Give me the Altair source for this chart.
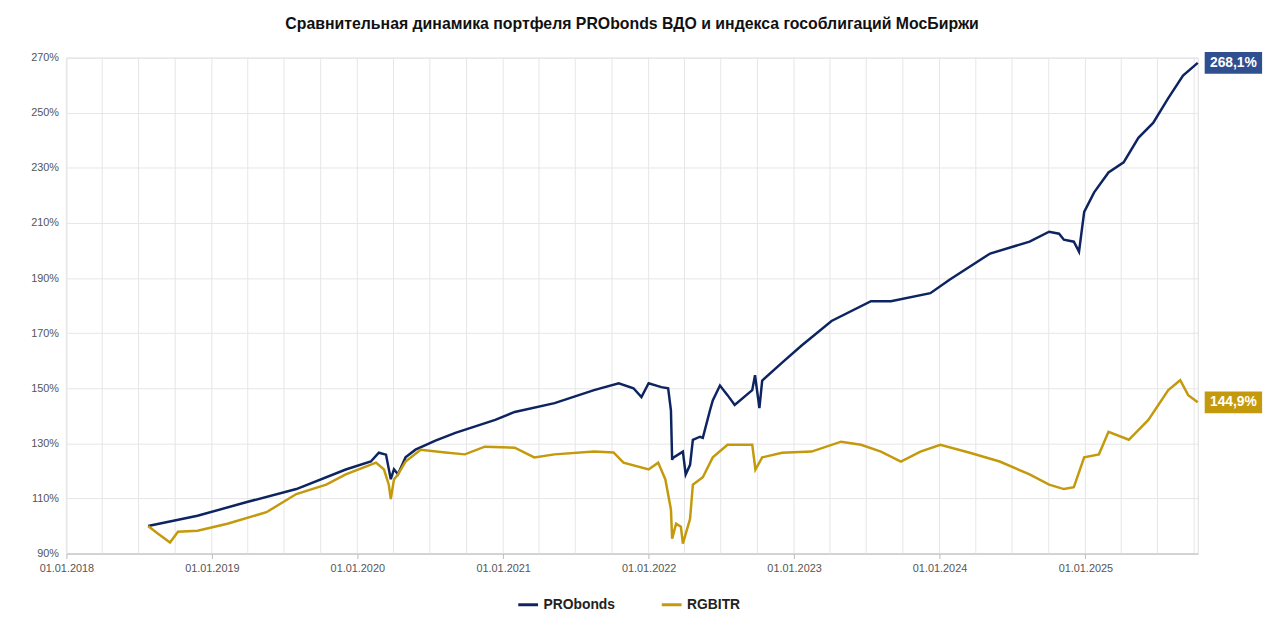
import altair as alt
import pandas as pd

pro_dates = [
    "2018-07-25", "2018-11-26", "2019-03-30", "2019-08-01", "2019-12-03", "2020-02-04",
    "2020-02-24", "2020-03-13", "2020-03-25", "2020-04-02", "2020-04-12", "2020-05-01",
    "2020-05-26", "2020-07-15", "2020-09-03", "2020-12-12", "2021-01-30", "2021-05-10",
    "2021-08-17", "2021-10-18", "2021-11-24", "2021-12-14", "2022-01-01", "2022-02-02",
    "2022-02-19", "2022-02-26", "2022-03-01", "2022-03-03", "2022-03-28", "2022-04-04",
    "2022-04-15", "2022-04-22", "2022-05-10", "2022-05-17", "2022-06-04", "2022-06-11",
    "2022-06-29", "2022-07-18", "2022-08-05", "2022-09-18", "2022-09-25", "2022-10-06",
    "2022-10-13", "2022-12-02", "2023-01-20", "2023-04-05", "2023-07-13", "2023-09-01",
    "2023-12-09", "2024-01-27", "2024-05-07", "2024-08-14", "2024-10-02", "2024-10-27",
    "2024-11-08", "2024-12-03", "2024-12-16", "2024-12-29", "2025-01-23", "2025-02-28",
    "2025-04-07", "2025-05-14", "2025-06-20", "2025-07-28", "2025-09-03", "2025-10-10",
]
pro_values = [
    100.0, 103.7, 108.7, 113.4, 120.5, 123.4,
    126.6, 125.9, 117.0, 120.6, 118.8, 124.9,
    127.7, 131.0, 133.8, 138.5, 141.4, 144.6,
    149.3, 151.8, 150.0, 146.8, 151.8, 150.4,
    150.0, 142.0, 124.0, 124.7, 127.0, 118.7,
    122.2, 131.3, 132.4, 132.0, 142.0, 145.6,
    151.0, 147.5, 143.9, 149.3, 154.7, 142.8,
    152.8, 159.3, 165.5, 174.4, 181.6, 181.6,
    184.5, 189.5, 198.9, 203.2, 206.8, 206.1,
    203.9, 203.2, 199.6, 214.0, 221.1, 228.3,
    232.0, 240.9, 246.3, 255.3, 263.5, 268.1,
]

rgb_dates = [
    "2018-07-25", "2018-08-19", "2018-09-18", "2018-10-08", "2018-11-26", "2019-02-09",
    "2019-05-18", "2019-08-01", "2019-10-15", "2019-12-03", "2020-02-17", "2020-03-08",
    "2020-03-20", "2020-03-25", "2020-04-02", "2020-04-12", "2020-05-01", "2020-06-08",
    "2020-08-09", "2020-09-27", "2020-11-16", "2021-01-30", "2021-03-20", "2021-05-10",
    "2021-08-17", "2021-10-05", "2021-10-30", "2022-01-01", "2022-01-25", "2022-02-12",
    "2022-02-26", "2022-03-01", "2022-03-11", "2022-03-23", "2022-03-28", "2022-04-15",
    "2022-04-22", "2022-05-17", "2022-06-11", "2022-07-18", "2022-09-18", "2022-09-26",
    "2022-10-13", "2022-12-02", "2023-02-14", "2023-04-29", "2023-06-18", "2023-08-07",
    "2023-09-26", "2023-11-14", "2024-01-03", "2024-03-17", "2024-05-31", "2024-08-14",
    "2024-10-02", "2024-11-08", "2024-12-03", "2024-12-29", "2025-02-04", "2025-02-28",
    "2025-04-20", "2025-06-08", "2025-07-28", "2025-08-27", "2025-09-16", "2025-10-10",
]
rgb_values = [
    100.0, 97.2, 94.0, 97.9, 98.3, 100.8,
    105.0, 111.6, 115.0, 118.7, 123.0, 120.5,
    115.0, 109.8, 116.9, 118.7, 123.4, 127.7,
    126.7, 126.0, 128.8, 128.4, 124.9, 126.0,
    127.0, 126.7, 123.0, 120.5, 123.0, 116.9,
    106.0, 95.4, 100.8, 99.7, 93.6, 102.6,
    115.0, 117.7, 124.9, 129.5, 129.5, 120.5,
    124.9, 126.6, 127.0, 130.6, 129.5, 127.0,
    123.4, 127.0, 129.5, 126.6, 123.4, 118.7,
    115.0, 113.4, 114.1, 124.9, 126.0, 134.2,
    131.3, 138.5, 149.3, 152.9, 147.5, 144.9,
]

series_names = ["PRObonds", "RGBITR"]
series_colors = ["#0d2461", "#c49a0c"]
end_labels = ["268,1%", "144,9%"]

df = pd.concat([
    pd.DataFrame({"date": pd.to_datetime(pro_dates), "value": pro_values, "series": "PRObonds"}),
    pd.DataFrame({"date": pd.to_datetime(rgb_dates), "value": rgb_values, "series": "RGBITR"}),
])
ends = pd.DataFrame({
    "date": pd.to_datetime([pro_dates[-1], rgb_dates[-1]]),
    "value": [pro_values[-1], rgb_values[-1]],
    "series": series_names,
    "label": end_labels,
})

x_dom = [pd.Timestamp("2018-01-01").isoformat(), pd.Timestamp("2025-10-10").isoformat()]
x_scale = alt.Scale(domain=x_dom)
y_scale = alt.Scale(domain=[90, 270], nice=False)
color = alt.Color(
    "series:N",
    scale=alt.Scale(domain=series_names, range=series_colors),
    legend=alt.Legend(
        title=None, orient="none", direction="horizontal", legendX=455, legendY=541,
        symbolType="stroke", symbolStrokeWidth=3, symbolSize=400, labelFontSize=14,
        labelFontWeight="bold", labelColor="#222", columnPadding=40,
    ),
)

# quarterly vertical gridlines
vgrid = pd.DataFrame({"date": pd.date_range("2018-01-01", "2025-10-01", freq="QS")})
grid = alt.Chart(vgrid).mark_rule(color="#e6e6e6", strokeWidth=1).encode(
    x=alt.X("date:T", scale=x_scale)
)

year_ticks = [pd.Timestamp(f"{y}-01-01").isoformat() for y in range(2018, 2026)]

lines = alt.Chart(df).mark_line(strokeWidth=2.5).encode(
    x=alt.X(
        "date:T", scale=x_scale, title=None,
        axis=alt.Axis(values=year_ticks, format="%d.%m.%Y", grid=False, labelFontSize=11,
                      labelColor="#555", domainColor="#bbb", tickColor="#bbb",
                      labelPadding=4, labelFlush=False),
    ),
    y=alt.Y(
        "value:Q", scale=y_scale, title=None,
        axis=alt.Axis(values=list(range(90, 271, 10)),
                      labelExpr="datum.value % 20 == 10 ? datum.value + '%' : ''",
                      gridColor="#e6e6e6", domain=False, ticks=False, labelFontSize=11,
                      labelColor="#555", labelPadding=8, labelFlush=False),
    ),
    color=color,
)

boxes = alt.Chart(ends).mark_rect(width=58, height=22, xOffset=36).encode(
    x=alt.X("date:T", scale=x_scale),
    y=alt.Y("value:Q", scale=y_scale),
    color=alt.Color("series:N", scale=alt.Scale(domain=series_names, range=["#2f4f8f", "#c49a0c"]), legend=None),
)
texts = alt.Chart(ends).mark_text(dx=36, color="white", fontWeight="bold", fontSize=14).encode(
    x=alt.X("date:T", scale=x_scale),
    y=alt.Y("value:Q", scale=y_scale),
    text="label:N",
)

chart = (
    alt.layer(grid, lines, boxes, texts)
    .resolve_scale(color="independent")
    .properties(
        width=1143, height=501,
        padding={"left": 22, "top": 5, "right": 10, "bottom": 5},
        title=alt.Title("Сравнительная динамика портфеля PRObonds ВДО и индекса гособлигаций МосБиржи",
                        fontSize=16, fontWeight="bold", color="#111", offset=20),
    )
    .configure_view(stroke=None)
    .configure(font="Arial")
)

chart.save("out.html", embed_options={"renderer": "svg", "actions": False})
